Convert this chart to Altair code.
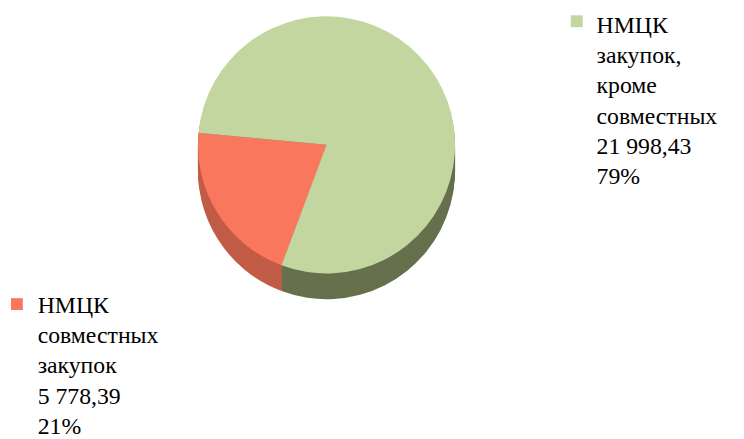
import math
import altair as alt
import pandas as pd

# ---- data ----
categories = ["НМЦК совместных закупок", "НМЦК закупок, кроме совместных"]
values = [5778.39, 21998.43]
value_labels = ["5 778,39", "21 998,43"]
share_labels = ["21%", "79%"]
legend_lines = [
    ["НМЦК", "совместных", "закупок"],
    ["НМЦК", "закупок,", "кроме", "совместных"],
]
top_colors = ["#F9775C", "#C4D69F"]
side_colors = ["#C25C47", "#66704D"]

df = pd.DataFrame({"category": categories, "value": values, "order": [0, 1]})

W, H = 736, 431
CX, CY = 322, 136
R = 130
DEPTH = 26
start = 200.5 * math.pi / 180
theta_scale = alt.Scale(range=[start, start + 2 * math.pi])


def fill_for(colors):
    return alt.condition(
        alt.datum.order == 0, alt.value(colors[0]), alt.value(colors[1])
    )


def pie(colors, dy):
    return (
        alt.Chart(df)
        .mark_arc(outerRadius=R, strokeWidth=0)
        .encode(
            theta=alt.Theta("value:Q", stack=True, scale=theta_scale),
            order=alt.Order("order:O"),
            fill=fill_for(colors),
            x=alt.value(CX),
            y=alt.value(CY + dy),
        )
    )


layers = []
for dy in range(DEPTH, 0, -2):
    layers.append(pie(side_colors, dy))
layers.append(pie(top_colors, 0))

FONT = "Liberation Serif"
LH = 30.5
legend_pos = [
    dict(idx=1, sx=575, sy=11, tx=595, ty=23),
    dict(idx=0, sx=9, sy=297, tx=30, ty=306),
]
for p in legend_pos:
    i = p["idx"]
    cat = categories[i]
    sub = alt.Chart(df).transform_filter(alt.datum.category == cat)
    layers.append(
        sub.mark_square(size=144, opacity=1)
        .encode(
            x=alt.value(p["sx"]),
            y=alt.value(p["sy"]),
            fill=fill_for(top_colors),
        )
    )
    lines = legend_lines[i] + [value_labels[i], share_labels[i]]
    for j, t in enumerate(lines):
        layers.append(
            sub.mark_text(
                font=FONT,
                fontSize=24,
                align="left",
                baseline="alphabetic",
                text=t,
            ).encode(
                x=alt.value(p["tx"]),
                y=alt.value(p["ty"] + j * LH),
            )
        )

chart = (
    alt.layer(*layers)
    .properties(
        width=W,
        height=H,
        padding=0,
        background="#FFFFFF",
        autosize=alt.AutoSizeParams(type="none"),
    )
    .configure_view(stroke=None)
)

chart.save("out.html", embed_options={"renderer": "svg", "actions": False})
